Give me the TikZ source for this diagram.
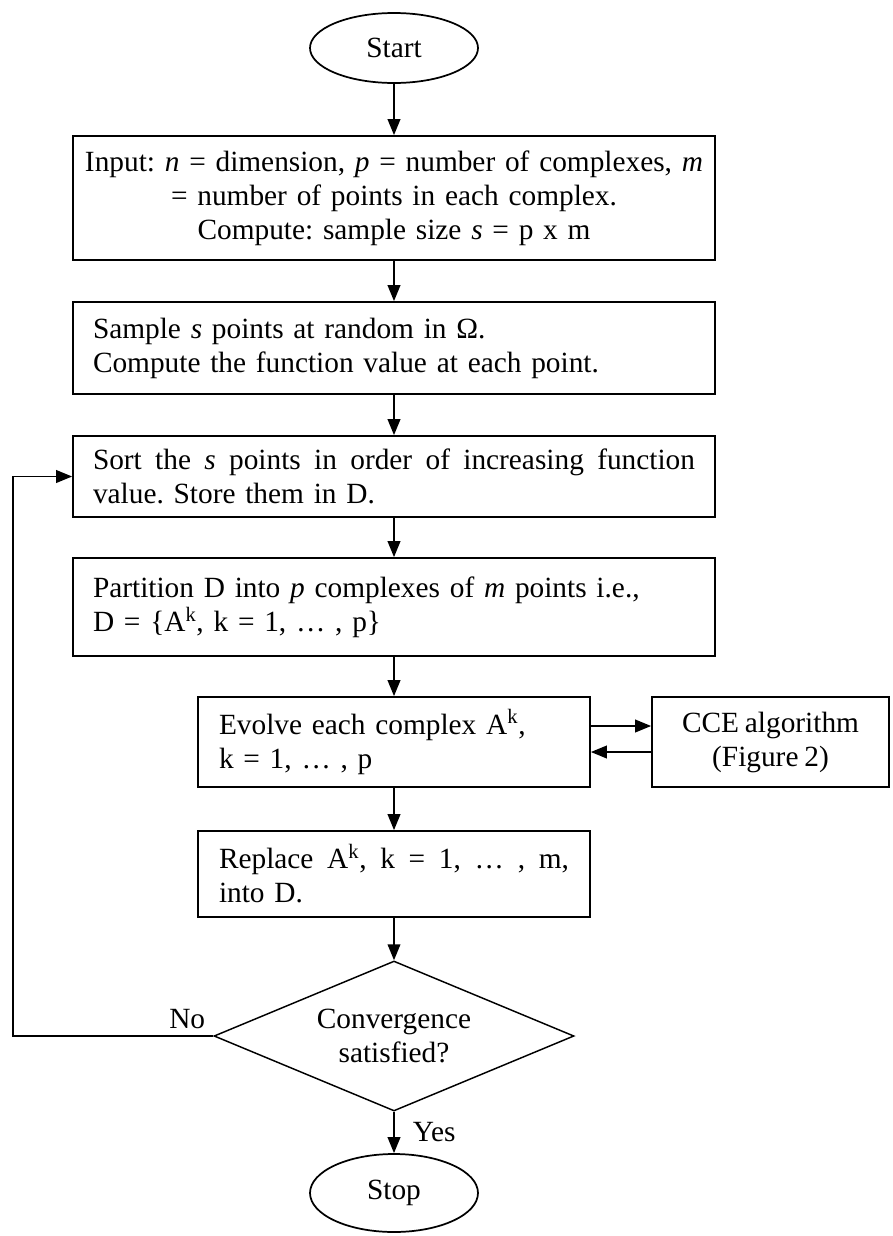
\documentclass[tikz,border=0pt]{standalone}
\usepackage{fontspec}
\setmainfont{Liberation Serif}
\usetikzlibrary{shapes.geometric,arrows.meta,calc}
\newcommand\diafont{\fontsize{22pt}{25.5pt}\selectfont\frenchspacing\spaceskip=4.4pt plus 2.2pt minus 1.1pt\relax}
\begin{document}
\begin{tikzpicture}[x=0.75pt,y=-0.75pt,
  font=\diafont,
  line width=1.3pt,
  arr/.style={-{Triangle[length=12pt,width=9.5pt]}},
  mainbox/.style={draw, rectangle, text width=451.5pt, inner xsep=15pt, inner ysep=0pt, align=left},
  subbox/.style={draw, rectangle, text width=262.5pt, inner xsep=15.75pt, inner ysep=0pt, align=left},
  term/.style={draw, ellipse, minimum width=126pt, inner sep=0pt},
  lbl/.style={inner sep=0pt},
]
\useasboundingbox (0,0) rectangle (893,1236);
\node[draw, rectangle, text width=475pt, inner xsep=3.25pt, inner ysep=0pt, align=center, minimum height=93pt] (input) at (394,198)
  {Input: \textit{n} = dimension, \textit{p} = number of complexes, \textit{m}\\
   = number of points in each complex.\hspace*{12pt}\\
   Compute: sample size \textit{s} = p x m\hspace*{20pt}};
\node[term, minimum height=52.5pt] (start) at (394,48) {Start};
\node[mainbox, minimum height=69pt] (sample) at (394,348)
  {Sample \textit{s} points at random in Ω.\\ Compute the function value at each point.};
\node[mainbox, minimum height=60.75pt] (sort) at (394,476.5)
  {\hbox to 451.5pt{Sort\hfill the\hfill \textit{s}\hfill points\hfill in\hfill order\hfill of\hfill increasing\hfill function}\\ value. Store them in D.};
\node[mainbox, minimum height=73.5pt] (partition) at (394,607)
  {Partition D into \textit{p} complexes of \textit{m} points i.e.,\\ D = \{A\textsuperscript{k}, k = 1, … , p\}};
\node[subbox, minimum height=67.5pt] (evolve) at (394,742)
  {Evolve each complex A\textsuperscript{k},\\ k = 1, … , p};
\node[draw, rectangle, minimum width=177.75pt, minimum height=67.5pt, inner sep=0pt, align=center] (cce) at (770.5,742)
  {CCE algorithm\\ (Figure 2)};
\node[subbox, minimum height=64.5pt] (replace) at (394,874)
  {\hbox to 262.5pt{Replace\hfill A\textsuperscript{k},\hfill k\hfill =\hfill 1,\hfill …\hfill ,\hfill m,}\\ into D.};
\node[draw, diamond, aspect=2.4, minimum width=270pt, minimum height=112.5pt, inner sep=0pt, align=center, line width=1.1pt] (conv) at (394,1036)
  {Convergence\\ satisfied?};
\node[term, minimum height=58.5pt] (stop) at (394,1193) {Stop};
\coordinate (loopx) at (13,1036);

\draw[arr] (start) -- (input);
\draw[arr] (input) -- (sample);
\draw[arr] (sample) -- (sort);
\draw[arr] (sort) -- (partition);
\draw[arr] (partition) -- (evolve);
\draw[arr] ($(evolve.east)+(0,-16)$) -- ($(cce.west)+(0,-16)$);
\draw[arr] ($(cce.west)+(0,10)$) -- ($(evolve.east)+(0,10)$);
\draw[arr] (evolve) -- (replace);
\draw[arr] (replace) -- (conv);
\draw[arr] (conv) -- node[lbl, right=13.5pt]{Yes} (stop);
\draw[arr] (conv.west) -- node[lbl, pos=0.13, above=5pt]{No} (loopx) |- (sort.west);
\end{tikzpicture}
\end{document}
